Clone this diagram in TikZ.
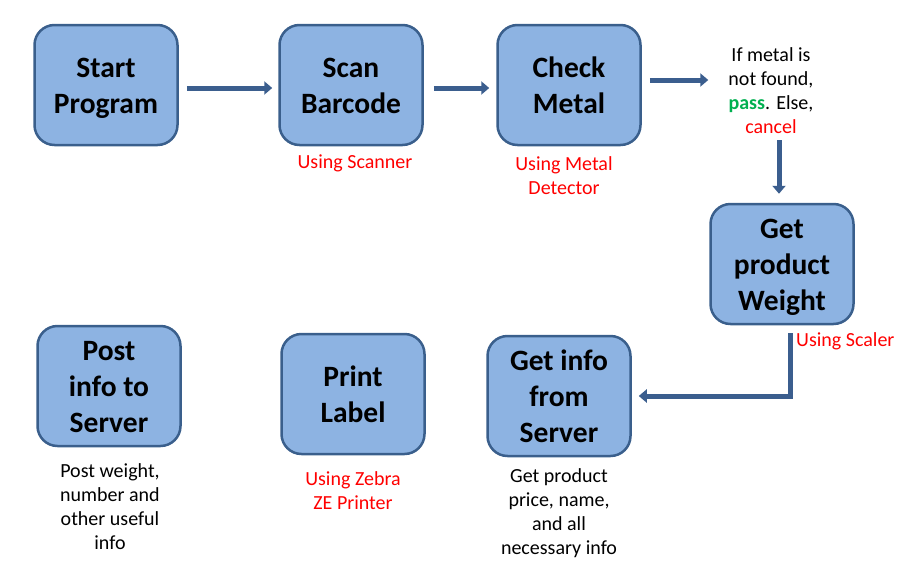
\documentclass[tikz,border=0pt]{standalone}
\usepackage{fontspec}
\setmainfont{Carlito}
\usetikzlibrary{arrows.meta}
\definecolor{boxfill}{HTML}{8DB3E2}
\definecolor{boxline}{HTML}{3A5F8C}
\definecolor{arrowcol}{HTML}{3B5E8E}
\definecolor{txtred}{HTML}{FF0000}
\definecolor{txtgreen}{HTML}{00B050}
\newcommand\bxs{\rule[-8pt]{0pt}{32pt}}
\begin{document}
\begin{tikzpicture}[x=1pt,y=-1pt,
  stepbox/.style={draw=boxline, fill=boxfill, line width=2.5pt, rounded corners=20pt,
    minimum width=143pt, minimum height=120pt, inner sep=0pt,
    label={[boxtext]center:\bxs#1\bxs}},
  boxtext/.style={align=center, inner sep=0pt, yshift=-2pt,
    font=\fontsize{29.5}{36}\selectfont\bfseries},
  note/.style={align=center, font=\fontsize{20}{24}\selectfont, inner sep=0pt},
  rednote/.style={note, text=txtred},
  arr/.style={draw=arrowcol, line width=5pt, -{Triangle[length=8pt,width=13pt]}}]
\useasboundingbox (0,0) rectangle (908,576);
\node[stepbox={Start\\Program}] (start) at (106,85) {};
\node[stepbox={Scan\\Barcode}] (scan) at (351,85) {};
\node[stepbox={Check\\Metal}] (check) at (569,85) {};
\node[stepbox={Get\\product\\Weight}] (weight) at (782,264) {};
\node[stepbox={Get info\\from\\Server}] (info) at (559,396) {};
\node[stepbox={Print\\Label}] (print) at (353,394) {};
\node[stepbox={Post\\info to\\Server}] (post) at (109,386) {};

\node[rednote] (scannote) at (355,163) {Using Scanner};
\node[rednote] (metalnote) at (564,176) {Using Metal\\Detector};
\node[note] (cond) at (771,91) {If metal is\\not found,\\\textcolor{txtgreen}{\bfseries pass}. Else,\\\textcolor{txtred}{cancel}};
\node[rednote, anchor=west] (scalernote) at (796,341) {Using Scaler};
\node[note] (postnote) at (110,507) {Post weight,\\number and\\other useful\\info};
\node[rednote] (zebranote) at (353,491) {Using Zebra\\ZE Printer};
\node[note] (infonote) at (559,513) {Get product\\price, name,\\and all\\necessary info};

\draw[arr] ([xshift=8pt,yshift=-3pt]start.east) -- ([xshift=-6pt,yshift=-3pt]scan.west);
\draw[arr] ([xshift=10pt,yshift=-3pt]scan.east) -- ([xshift=-7pt,yshift=-3pt]check.west);
\draw[arr] ([xshift=8pt,yshift=5pt]check.east) -- ([xshift=-20pt,yshift=11pt]cond.west);
\draw[arr] ([xshift=-3pt,yshift=-6pt]weight.north |- cond.south) -- ([xshift=-3pt,yshift=9pt]weight.north);
\draw[arr] ([xshift=8pt,yshift=-8pt]weight.south) |- ([xshift=7pt]info.east);
\end{tikzpicture}
\end{document}
